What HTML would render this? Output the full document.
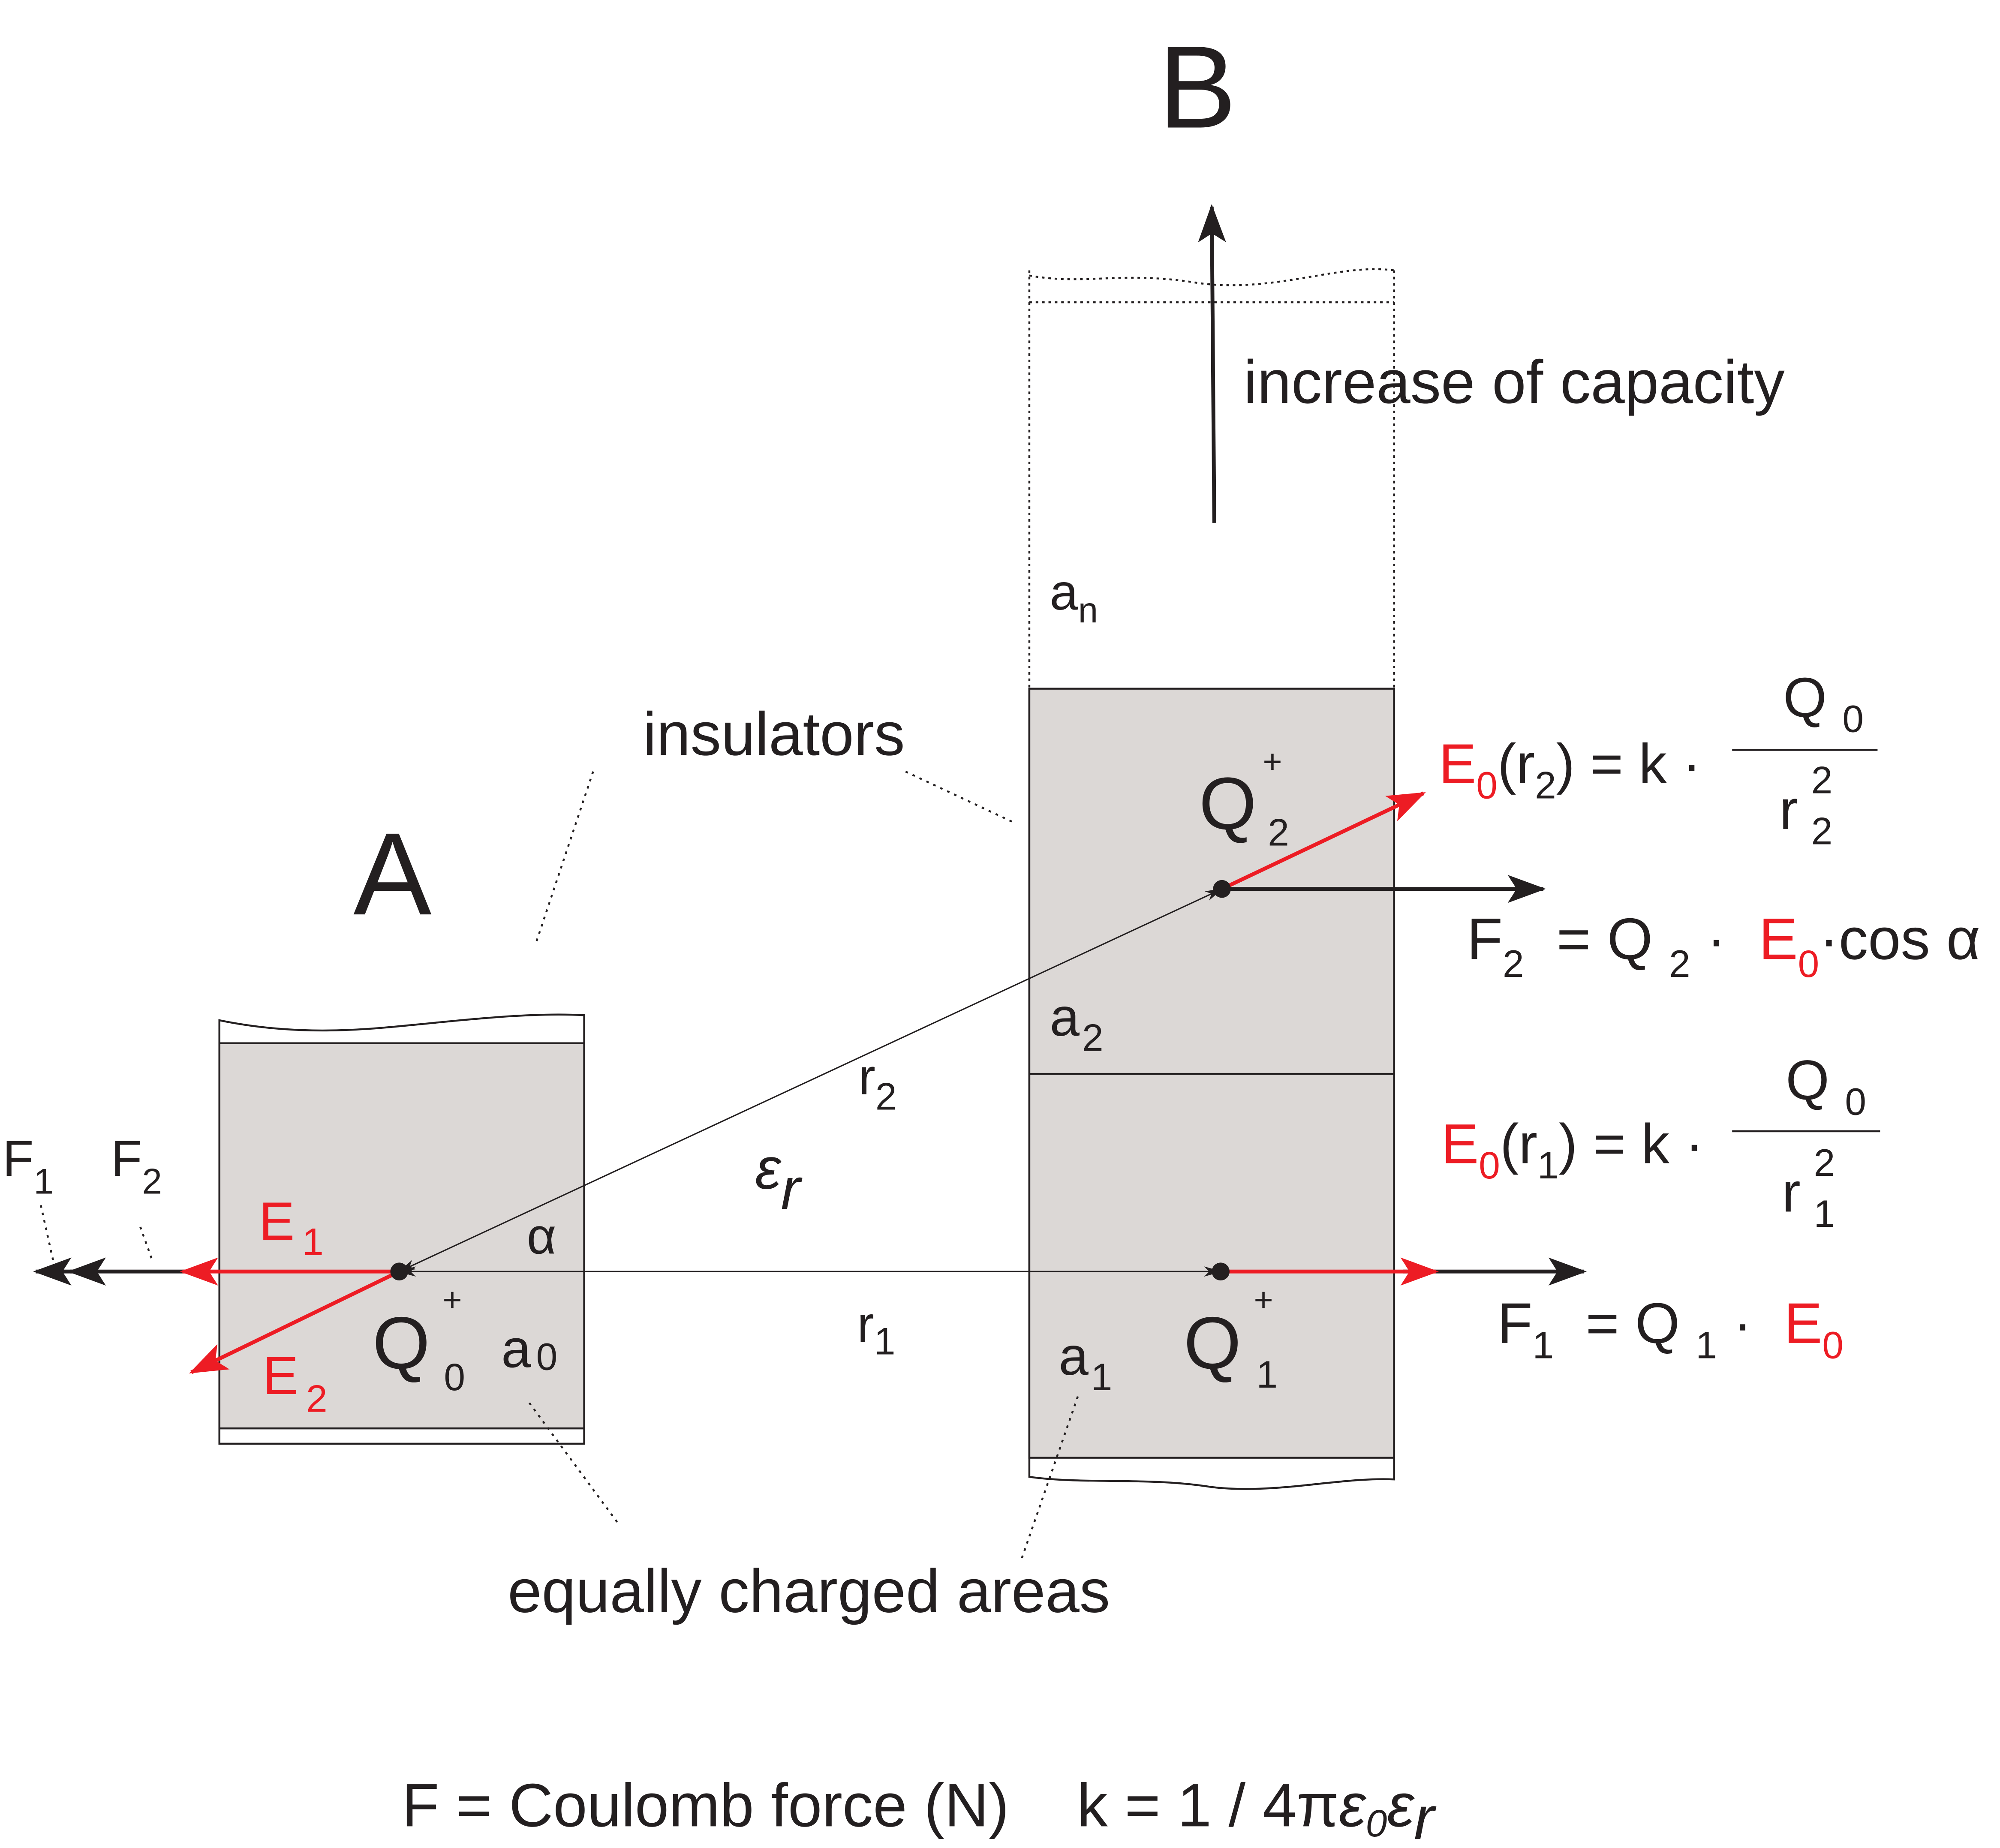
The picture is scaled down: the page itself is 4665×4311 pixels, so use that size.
<!DOCTYPE html>
<html><head><meta charset="utf-8"><style>
html,body{margin:0;padding:0;background:#fff;}
svg{display:block;}
text{font-family:"Liberation Sans",sans-serif;fill:#231f20;white-space:pre;}
.r{fill:#ed1c24;}
</style></head><body>
<svg width="4665" height="4311" viewBox="0 0 1568 1449" xmlns="http://www.w3.org/2000/svg" xml:space="preserve">
<defs>
<marker id="ab" markerWidth="14" markerHeight="8" refX="13" refY="4" orient="auto" markerUnits="userSpaceOnUse" viewBox="0 0 14 8"><path d="M0,0 L14,4 L0,8 L4,4z" fill="#231f20"/></marker>
<marker id="bb" markerWidth="30" markerHeight="22" refX="28" refY="11" orient="auto" markerUnits="userSpaceOnUse" viewBox="0 0 30 22"><path d="M0,0 L30,11 L0,22 L7,11z" fill="#231f20"/></marker>
<marker id="br" markerWidth="30" markerHeight="22" refX="28" refY="11" orient="auto" markerUnits="userSpaceOnUse" viewBox="0 0 30 22"><path d="M0,0 L30,11 L0,22 L7,11z" fill="#ed1c24"/></marker>
</defs>

<text x="908" y="100" font-size="92">B</text>
<text x="277" y="717" font-size="92">A</text>

<path d="M807,216 C850,224 880,212 940,222 C1000,230 1050,206 1093,212" fill="none" stroke="#231f20" stroke-width="1.5" stroke-dasharray="2,3"/>
<line x1="807" y1="237" x2="1093" y2="237" stroke="#231f20" stroke-width="1.5" stroke-dasharray="2,3"/>
<line x1="807" y1="212" x2="807" y2="540" stroke="#231f20" stroke-width="1.5" stroke-dasharray="2,3"/>
<line x1="1093" y1="212" x2="1093" y2="540" stroke="#231f20" stroke-width="1.5" stroke-dasharray="2,3"/>
<line x1="952" y1="410" x2="950" y2="162" stroke="#231f20" stroke-width="3" marker-end="url(#bb)"/>
<text x="975" y="316" font-size="48">increase of capacity</text>
<text x="823" y="478" font-size="40">a<tspan font-size="28" dy="10">n</tspan></text>

<path d="M807,540 H1093 V1160 C1050,1158 1000,1172 950,1166 C900,1158 850,1164 807,1158 Z" fill="#fff" stroke="#231f20" stroke-width="1.5"/>
<rect x="807" y="540" width="286" height="603" fill="#dcd8d6" stroke="#231f20" stroke-width="1.5"/>
<line x1="807" y1="842" x2="1093" y2="842" stroke="#231f20" stroke-width="1.5"/>

<path d="M172,800 C230,812 280,808 320,804 C380,798 420,794 458,796 V1132 H172 Z" fill="#fff" stroke="#231f20" stroke-width="1.5"/>
<rect x="172" y="818" width="286" height="302" fill="#dcd8d6" stroke="#231f20" stroke-width="1.5"/>

<g stroke="#231f20" stroke-width="1.5" stroke-dasharray="2,4" fill="none">
<line x1="465" y1="605" x2="420" y2="740"/>
<line x1="710" y1="605" x2="795" y2="645"/>
<line x1="415" y1="1100" x2="485" y2="1195"/>
<line x1="845" y1="1095" x2="800" y2="1225"/>
<line x1="32" y1="945" x2="42" y2="990"/>
<line x1="110" y1="962" x2="120" y2="990"/>
</g>
<text x="504" y="592" font-size="48">insulators</text>
<text x="398" y="1264" font-size="48">equally charged areas</text>

<line x1="957" y1="997" x2="313" y2="997" stroke="#231f20" stroke-width="1" marker-end="url(#ab)"/>
<line x1="313" y1="997" x2="957" y2="997" stroke="#231f20" stroke-width="1" marker-end="url(#ab)"/>
<line x1="958" y1="697" x2="313" y2="997" stroke="#231f20" stroke-width="1" marker-end="url(#ab)"/>
<line x1="313" y1="997" x2="958" y2="697" stroke="#231f20" stroke-width="1" marker-end="url(#ab)"/>

<line x1="145" y1="997" x2="55" y2="997" stroke="#231f20" stroke-width="3" marker-end="url(#bb)"/>
<line x1="60" y1="997" x2="28" y2="997" stroke="#231f20" stroke-width="3" marker-end="url(#bb)"/>
<line x1="313" y1="997" x2="143" y2="997" stroke="#ed1c24" stroke-width="3" marker-end="url(#br)"/>
<line x1="313" y1="997" x2="150" y2="1076" stroke="#ed1c24" stroke-width="3" marker-end="url(#br)"/>

<line x1="958" y1="697" x2="1210" y2="697" stroke="#231f20" stroke-width="3" marker-end="url(#bb)"/>
<line x1="958" y1="697" x2="1116" y2="622" stroke="#ed1c24" stroke-width="3" marker-end="url(#br)"/>
<line x1="1100" y1="997" x2="1242" y2="997" stroke="#231f20" stroke-width="3" marker-end="url(#bb)"/>
<line x1="957" y1="997" x2="1126" y2="997" stroke="#ed1c24" stroke-width="3" marker-end="url(#br)"/>

<circle cx="313" cy="997" r="7" fill="#231f20"/>
<circle cx="958" cy="697" r="7" fill="#231f20"/>
<circle cx="957" cy="997" r="7" fill="#231f20"/>

<text x="2" y="922" font-size="40">F<tspan font-size="28" dy="14">1</tspan></text>
<text x="87" y="922" font-size="40">F<tspan font-size="28" dy="14">2</tspan></text>
<text x="203" y="972" font-size="42" class="r">E<tspan font-size="30" dy="12" dx="6" class="r">1</tspan></text>
<text x="206" y="1093" font-size="42" class="r">E<tspan font-size="30" dy="14" dx="6" class="r">2</tspan></text>
<text x="292" y="1073" font-size="58">Q</text>
<text x="347" y="1028" font-size="26">+</text>
<text x="348" y="1090" font-size="30">0</text>
<text x="393" y="1072" font-size="42">a<tspan font-size="30" dy="2" dx="4">0</tspan></text>
<text x="413" y="983" font-size="40">α</text>
<text x="592" y="932" font-size="46" font-style="italic">ε<tspan font-size="46" dy="16">r</tspan></text>
<text x="673" y="858" font-size="40">r<tspan font-size="30" dy="12">2</tspan></text>
<text x="672" y="1052" font-size="40">r<tspan font-size="30" dy="10">1</tspan></text>

<text x="940" y="650" font-size="58">Q</text>
<text x="990" y="606" font-size="26">+</text>
<text x="994" y="663" font-size="30">2</text>
<text x="928" y="1073" font-size="58">Q</text>
<text x="983" y="1028" font-size="26">+</text>
<text x="985" y="1088" font-size="30">1</text>
<text x="823" y="812" font-size="42">a<tspan font-size="30" dy="12" dx="2">2</tspan></text>
<text x="830" y="1078" font-size="42">a<tspan font-size="30" dy="12" dx="2">1</tspan></text>

<text x="1128" y="614" font-size="44"><tspan class="r">E</tspan><tspan class="r" font-size="30" dy="12">0</tspan><tspan dy="-12">(r</tspan><tspan font-size="30" dy="12">2</tspan><tspan dy="-12">) = k ·</tspan></text>
<text x="1398" y="562" font-size="44">Q <tspan font-size="30" dy="12">0</tspan></text>
<line x1="1358" y1="588" x2="1472" y2="588" stroke="#231f20" stroke-width="1.5"/>
<text x="1395" y="650" font-size="44">r</text><text x="1420" y="622" font-size="30">2</text><text x="1420" y="662" font-size="30">2</text>
<text x="1150" y="752" font-size="46">F<tspan font-size="30" dy="14">2</tspan><tspan dy="-14">  = Q </tspan><tspan font-size="30" dy="14">2</tspan><tspan dy="-14"> ·  </tspan><tspan class="r">E</tspan><tspan class="r" font-size="30" dy="14">0</tspan><tspan dy="-14">·cos α</tspan></text>

<text x="1130" y="912" font-size="44"><tspan class="r">E</tspan><tspan class="r" font-size="30" dy="12">0</tspan><tspan dy="-12">(r</tspan><tspan font-size="30" dy="12">1</tspan><tspan dy="-12">) = k ·</tspan></text>
<text x="1400" y="862" font-size="44">Q <tspan font-size="30" dy="12">0</tspan></text>
<line x1="1358" y1="887" x2="1474" y2="887" stroke="#231f20" stroke-width="1.5"/>
<text x="1397" y="950" font-size="44">r</text><text x="1422" y="922" font-size="30">2</text><text x="1422" y="962" font-size="30">1</text>
<text x="1174" y="1053" font-size="45">F<tspan font-size="30" dy="12">1</tspan><tspan dy="-12">  = Q </tspan><tspan font-size="30" dy="12">1</tspan><tspan dy="-12"> ·  </tspan><tspan class="r">E</tspan><tspan class="r" font-size="30" dy="12">0</tspan></text>

<text x="315" y="1432" font-size="48">F = Coulomb force (N)    k = 1 / 4π<tspan font-style="italic">ε</tspan><tspan font-style="italic" font-size="30" dy="8">0</tspan><tspan font-style="italic" dy="-8">ε</tspan><tspan font-style="italic" font-size="48" dy="10">r</tspan></text>
</svg>
</body></html>
